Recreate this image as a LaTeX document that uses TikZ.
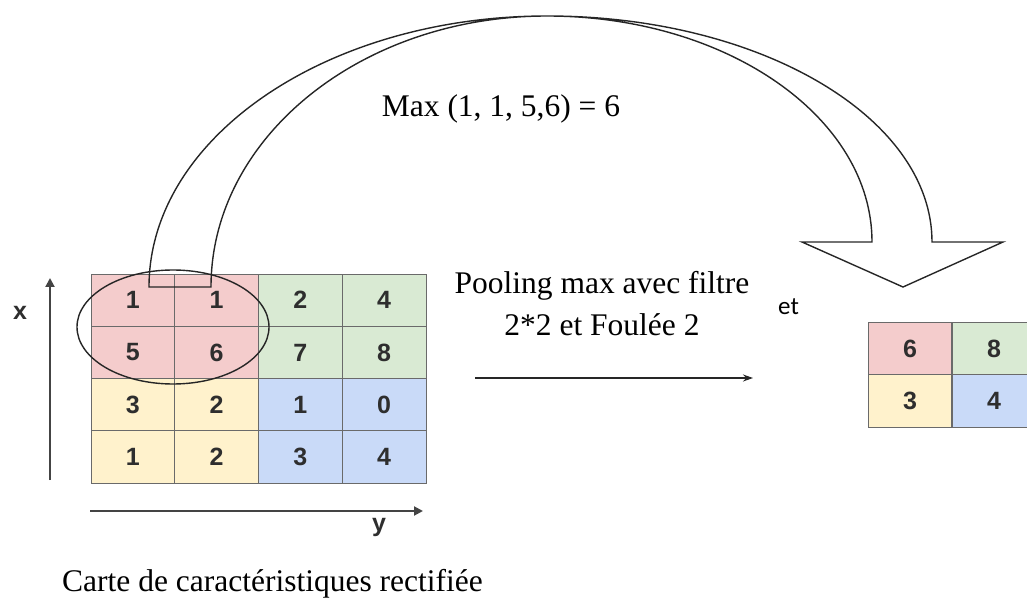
\documentclass[tikz,border=0pt]{standalone}
\usepackage{fontspec}
\setmainfont{Liberation Serif}
\newfontfamily\cellfont{Liberation Sans}
\newfontfamily\notefont{Carlito}
\usetikzlibrary{arrows.meta,shapes.geometric}

\definecolor{cellpink}{HTML}{F4CCCC}
\definecolor{cellgreen}{HTML}{D9EAD3}
\definecolor{cellyellow}{HTML}{FFF2CC}
\definecolor{cellblue}{HTML}{C9DAF8}
\definecolor{gridgray}{HTML}{6A6A6A}
\definecolor{digitgray}{HTML}{2E2E2E}
\definecolor{axisgray}{HTML}{444444}

\begin{document}
\begin{tikzpicture}[x=1pt,y=-1pt,
  cell/.style={draw=gridgray, line width=0.9pt, minimum width=83.75pt,
    minimum height=52.25pt, inner sep=0pt, text=digitgray,
    font=\cellfont\bfseries\fontsize{25}{25}\selectfont},
  serifnote/.style={inner sep=0pt, font=\fontsize{31.5}{42}\selectfont, align=center},
  axislabel/.style={inner sep=0pt, text=digitgray, font=\cellfont\bfseries\fontsize{25}{25}\selectfont},
  axis/.style={draw=axisgray, line width=2pt, -{Triangle[length=9pt,width=9pt]}},
  bandline/.style={draw=black!85, line width=1.4pt, line join=miter}
]
\useasboundingbox (0,0) rectangle (1027,601);

% rectified feature map, 4x4
\node[cell, fill=cellpink]   (m11) at (132.9,300.1) {1};
\node[cell, fill=cellpink]   (m12) at (216.6,300.1) {1};
\node[cell, fill=cellgreen]  (m13) at (300.4,300.1) {2};
\node[cell, fill=cellgreen]  (m14) at (384.1,300.1) {4};
\node[cell, fill=cellpink]   (m21) at (132.9,352.4) {5};
\node[cell, fill=cellpink]   (m22) at (216.6,352.4) {6};
\node[cell, fill=cellgreen]  (m23) at (300.4,352.4) {7};
\node[cell, fill=cellgreen]  (m24) at (384.1,352.4) {8};
\node[cell, fill=cellyellow] (m31) at (132.9,404.6) {3};
\node[cell, fill=cellyellow] (m32) at (216.6,404.6) {2};
\node[cell, fill=cellblue]   (m33) at (300.4,404.6) {1};
\node[cell, fill=cellblue]   (m34) at (384.1,404.6) {0};
\node[cell, fill=cellyellow] (m41) at (132.9,456.9) {1};
\node[cell, fill=cellyellow] (m42) at (216.6,456.9) {2};
\node[cell, fill=cellblue]   (m43) at (300.4,456.9) {3};
\node[cell, fill=cellblue]   (m44) at (384.1,456.9) {4};

% pooled output, 2x2
\node[cell, fill=cellpink]   (p11) at (910,349) {6};
\node[cell, fill=cellgreen]  (p12) at (994,349) {8};
\node[cell, fill=cellyellow] (p21) at (910,401) {3};
\node[cell, fill=cellblue]   (p22) at (994,401) {4};

% 2x2 window being pooled
\node[draw=black!85, line width=1.4pt, ellipse, minimum width=192, minimum height=114, inner sep=0pt] (win) at (173,327) {};

% axes
\coordinate (xa0) at (50,480);
\coordinate (xa1) at (50,278);
\coordinate (ya0) at (90,511);
\coordinate (ya1) at (423,511);
\draw[axis] (xa0) -- (xa1);
\draw[axis] (ya0) -- (ya1);
\node[axislabel] (xl) at (20,313) {x};
\node[axislabel] (yl) at (379,527) {y};

% curved block arrow from the window to the output cell
\draw[bandline] (149,287)
  arc[start angle=180, end angle=270, x radius=398, y radius=271]
  arc[start angle=270, end angle=360, x radius=385, y radius=226]
  -- (1003,242) -- (903,287) -- (802,242) -- (872,242)
  arc[start angle=0, end angle=-90, x radius=325, y radius=226]
  arc[start angle=270, end angle=180, x radius=336, y radius=271]
  -- cycle;

% labels
\node[serifnote, anchor=base] (maxt) at (501,117) {Max (1, 1, 5,6) = 6};
\node[serifnote, anchor=base] (pool) at (602,335) {Pooling max avec filtre\\2*2 et Foulée 2};
\node[inner sep=0pt, anchor=base west, font=\notefont\fontsize{25}{25}\selectfont] (et) at (778,315) {et};
\node[serifnote, anchor=base west] (cap) at (62,591) {Carte de caractéristiques rectifiée};

% pooling arrow
\coordinate (pa0) at (475,378);
\coordinate (pa1) at (753,378);
\draw[draw=black!85, line width=1.4pt, -{Stealth[length=10pt,width=7pt]}] (pa0) -- (pa1);
\end{tikzpicture}
\end{document}
